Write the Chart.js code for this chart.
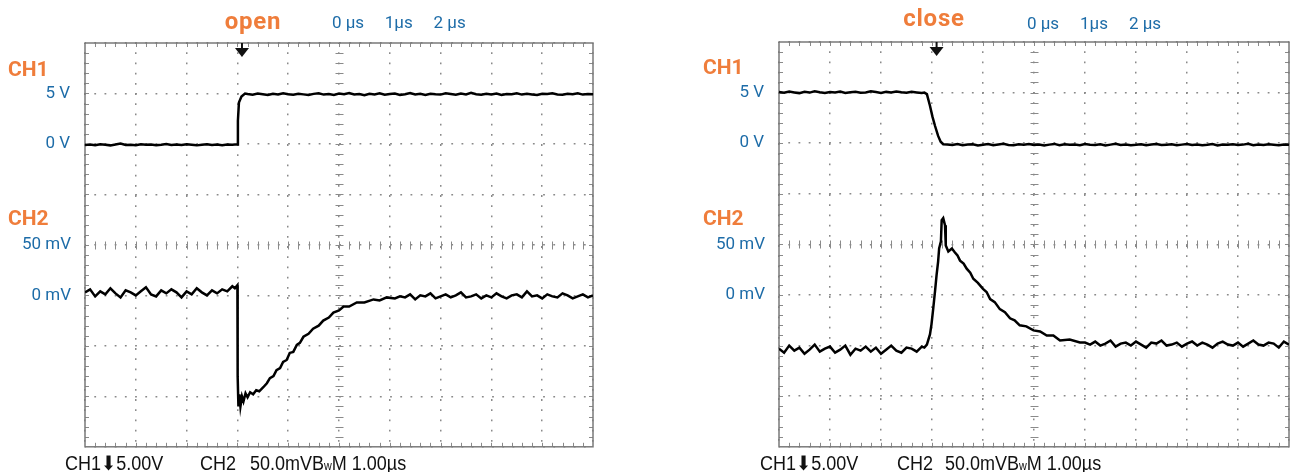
<!DOCTYPE html>
<html lang="en">
<head>
<meta charset="UTF-8">
<title>open / close</title>
<script src="https://cdn.jsdelivr.net/npm/chart.js"></script>
<style>
  body { margin: 0; background: #fff; width: 1292px; height: 472px; position: relative; overflow: hidden; font-family: Roboto, sans-serif; }
  canvas { position: absolute; top: 0; }
  .lbl { position: absolute; line-height: 1; white-space: pre; }
  .ch { color: #ef7d3b; font-weight: 700; font-size: 21px; }
  .evt { color: #ef7d3b; font-weight: 700; font-size: 24px; letter-spacing: 0.8px; transform: translateX(-50%); }
  .foot { font-family: "Liberation Sans", Arial, sans-serif; font-size: 20px; color: #111; transform: scaleX(0.9); transform-origin: left top; }
  .foot small { font-size: 12px; }
</style>
</head>
<body>
<canvas id="openChart" width="646" height="472" style="left:0"></canvas>
<canvas id="closeChart" width="646" height="472" style="left:646px"></canvas>

<div class="lbl evt" style="left:253px; top:9px">open</div>
<div class="lbl ch" style="left:8px; top:59px">CH1</div>
<div class="lbl ch" style="left:8px; top:208px">CH2</div>
<div class="lbl foot" style="left:65px; top:453px">CH1⬇5.00V</div>
<div class="lbl foot" style="left:200px; top:453px">CH2</div>
<div class="lbl foot" style="left:250px; top:453px">50.0mVB<small>w</small>M 1.00µs</div>

<div class="lbl evt" style="left:934px; top:6px">close</div>
<div class="lbl ch" style="left:703px; top:57px">CH1</div>
<div class="lbl ch" style="left:703px; top:208px">CH2</div>
<div class="lbl foot" style="left:760px; top:453px">CH1⬇5.00V</div>
<div class="lbl foot" style="left:897px; top:453px">CH2</div>
<div class="lbl foot" style="left:945px; top:453px">50.0mVB<small>w</small>M 1.00µs</div>

<script>
// tick labels (x in µs from left edge of screen, 1 µs/div)
const topTickPos = [5, 6, 7];
const topTickLabels = ['0 µs', '1µs', '2 µs'];
const ch1TickVals = [5, 0];
const ch1TickLabels = ['5 V', '0 V'];
const ch2TickVals = [50, 0];
const ch2TickLabels = ['50 mV', '0 mV'];
const triggerAt = 3.09;

// "open" - CH1 (V)
const openT1 = [0,0.1,0.2,0.3,0.4,0.5,0.6,0.7,0.8,0.9,
  1,1.1,1.2,1.3,1.4,1.5,1.6,1.7,1.8,1.9,
  2,2.1,2.2,2.3,2.4,2.5,2.6,2.7,2.8,2.9,
  2.95,3,3.01,3.03,3.08,3.15,
  3.2,3.3,3.4,3.5,3.6,3.7,3.8,3.9,
  4,4.1,4.2,4.3,4.4,4.5,4.6,4.7,4.8,4.9,
  5,5.1,5.2,5.3,5.4,5.5,5.6,5.7,5.8,5.9,
  6,6.1,6.2,6.3,6.4,6.5,6.6,6.7,6.8,6.9,
  7,7.1,7.2,7.3,7.4,7.5,7.6,7.7,7.8,7.9,
  8,8.1,8.2,8.3,8.4,8.5,8.6,8.7,8.8,8.9,
  9,9.1,9.2,9.3,9.4,9.5,9.6,9.7,9.8,9.9,
  10];
const openV1 = [-0.10,-0.05,-0.12,-0.02,-0.08,-0.14,-0.06,0.04,-0.10,-0.07,
  -0.12,-0.03,-0.09,-0.05,-0.13,-0.08,-0.01,-0.10,-0.06,-0.11,
  -0.04,-0.09,-0.14,-0.07,-0.02,-0.10,-0.06,-0.12,-0.05,-0.08,
  -0.06,-0.05,2.3,4.1,4.7,5.0,
  4.95,4.88,5.00,4.92,4.85,4.97,4.90,5.03,
  4.93,4.87,4.98,4.91,4.84,4.96,5.02,4.89,4.94,4.86,
  4.99,4.92,5.05,4.90,4.95,4.83,4.97,4.91,5.01,4.88,
  4.94,4.99,4.86,4.93,5.04,4.90,4.96,4.85,4.98,4.92,
  4.89,5.02,4.94,4.87,4.99,4.91,5.06,4.93,4.88,4.97,
  4.90,5.00,4.86,4.95,4.92,5.03,4.89,4.96,4.91,4.85,
  4.98,4.94,5.01,4.90,4.87,4.97,4.93,5.02,4.89,4.95,
  4.92];

// "open" - CH2 (mV)
const openT2 = [0,0.1,0.2,0.3,0.4,0.5,0.6,0.7,0.8,0.9,
  1,1.1,1.2,1.3,1.4,1.5,1.6,1.7,1.8,1.9,
  2,2.1,2.2,2.3,2.4,2.5,2.6,2.7,2.8,2.9,
  2.95,3,3.005,3.02,3.04,3.06,3.09,3.12,3.16,3.2,
  3.25,3.31,3.37,3.43,3.51,3.58,3.64,3.71,3.77,3.84,
  3.9,3.97,4.03,4.1,4.17,4.23,4.3,4.4,4.49,4.6,
  4.69,4.8,4.89,5,5.09,5.2,5.35,5.5,5.68,5.8,
  5.94,6.1,6.2,
  6.3,6.4,6.5,6.6,6.7,6.8,6.9,
  7,7.1,7.2,7.3,7.4,7.5,7.6,7.7,7.8,7.9,
  8,8.1,8.2,8.3,8.4,8.5,8.6,8.7,8.8,8.9,
  9,9.1,9.2,9.3,9.4,9.5,9.6,9.7,9.8,9.9,
  10];
const openV2 = [3,6,-1,4,1,7,2,-2,5,3,
  0,4,8,1,-1,5,2,6,3,-2,
  4,1,7,3,0,5,2,6,4,9,
  7,10,-80,-110,-98,-110,-100,-105,-97,-101,
  -96,-98,-94,-95,-91,-87,-82,-80,-74,-72,
  -66,-64,-57,-56,-49,-47,-41,-38,-33,-30,
  -25,-22,-17,-15,-11,-11,-7,-7,-4,-5,
  -2,-3,-1,
  -2,1,-4,0,-1,2,-3,
  -1,1,-2,0,3,-2,-1,1,-3,0,
  -2,2,-1,-3,0,1,-2,4,-1,0,
  -3,1,-1,-2,2,0,-3,-1,1,-2,
  0];

// "close" - CH1 (V)
const closeT1 = [0,0.1,0.2,0.3,0.4,0.5,0.6,0.7,0.8,0.9,
  1,1.1,1.2,1.3,1.4,1.5,1.6,1.7,1.8,1.9,
  2,2.1,2.2,2.3,2.4,2.5,2.6,2.7,2.8,
  2.85,2.9,2.96,3.01,3.06,3.12,3.17,3.22,
  3.3,3.4,3.5,3.6,3.7,3.8,3.9,
  4,4.1,4.2,4.3,4.4,4.5,4.6,4.7,4.8,4.9,
  5,5.1,5.2,5.3,5.4,5.5,5.6,5.7,5.8,5.9,
  6,6.1,6.2,6.3,6.4,6.5,6.6,6.7,6.8,6.9,
  7,7.1,7.2,7.3,7.4,7.5,7.6,7.7,7.8,7.9,
  8,8.1,8.2,8.3,8.4,8.5,8.6,8.7,8.8,8.9,
  9,9.1,9.2,9.3,9.4,9.5,9.6,9.7,9.8,9.9,
  10];
const closeV1 = [5.05,4.98,5.10,5.02,4.95,5.08,5.00,5.12,5.03,4.97,
  5.06,5.01,5.11,4.96,5.04,5.09,4.99,5.02,5.13,5.05,
  4.97,5.07,5.00,5.10,5.03,4.98,5.08,5.02,4.96,
  5.0,4.85,3.7,2.6,1.7,0.72,0.15,-0.1,
  -0.12,-0.18,-0.08,-0.20,-0.14,-0.10,-0.22,
  -0.15,-0.09,-0.19,-0.13,-0.06,-0.17,-0.21,-0.11,-0.16,-0.08,
  -0.18,-0.12,-0.23,-0.14,-0.07,-0.19,-0.10,-0.16,-0.13,-0.20,
  -0.09,-0.15,-0.18,-0.11,-0.22,-0.14,-0.05,-0.17,-0.12,-0.19,
  -0.16,-0.10,-0.21,-0.13,-0.08,-0.18,-0.15,-0.11,-0.20,-0.14,
  -0.07,-0.17,-0.12,-0.19,-0.15,-0.09,-0.22,-0.13,-0.16,-0.10,
  -0.18,-0.14,-0.06,-0.20,-0.12,-0.17,-0.11,-0.15,-0.19,-0.13,
  -0.16];

// "close" - CH2 (mV)
const closeT2 = [0,0.1,0.2,0.3,0.4,0.5,0.6,0.7,0.8,0.9,
  1,1.1,1.2,1.3,1.4,1.5,1.6,1.7,1.8,1.9,
  2,2.1,2.2,2.3,2.4,2.5,2.6,2.7,2.8,
  2.85,2.9,2.96,2.99,3.025,3.06,3.09,3.12,3.14,3.175,
  3.19,3.22,3.255,3.27,3.32,3.39,3.45,3.5,3.55,3.62,
  3.68,3.75,3.81,3.9,4,4.07,4.14,4.23,4.33,4.43,
  4.53,4.62,4.72,4.85,4.99,5.12,5.25,5.38,5.51,5.7,
  5.9,
  6,6.1,6.2,6.3,6.4,6.5,6.6,6.7,6.8,6.9,
  7,7.1,7.2,7.3,7.4,7.5,7.6,7.7,7.8,7.9,
  8,8.1,8.2,8.3,8.4,8.5,8.6,8.7,8.8,8.9,
  9,9.1,9.2,9.3,9.4,9.5,9.6,9.7,9.8,9.9,
  10];
const closeV2 = [-53,-57,-50,-55,-52,-58,-54,-49,-56,-53,
  -51,-57,-54,-50,-59,-53,-55,-51,-56,-52,
  -58,-54,-50,-55,-57,-52,-53,-56,-51,
  -52,-49,-39,-29,-13,4,20,33,46,53,
  74,76,69,49,43,46,42,39,34,31,
  26,22,16,12,6,3,-4,-7,-14,-17,
  -23,-25,-30,-31,-35,-36,-40,-40,-45,-44,
  -47,
  -47,-49,-46,-50,-48,-45,-51,-48,-47,-50,
  -46,-49,-52,-47,-48,-45,-50,-49,-47,-51,
  -48,-46,-50,-47,-49,-52,-48,-46,-49,-50,
  -47,-51,-48,-45,-49,-50,-47,-48,-52,-46,
  -49];

const blue = '#1d6ca8';
const gridGrey = '#8a8a8a';
const labelFont = { family: 'Roboto', size: 17 };

function pts(t, v) {
  return t.map((tt, i) => ({ x: tt, y: v[i] }));
}

// frame, minor ticks, centre-axis ticks and trigger marker
function graticule(trig) {
  return {
    id: 'graticule',
    afterLayout(chart) {
      // let the zero-width CH2 axis draw its labels to the left of the plot
      chart.scales.y2.left = 0;
    },
    beforeDatasetsDraw(chart) {
      const { ctx, chartArea: a, scales: { x, y } } = chart;
      const cx = Math.round(x.getPixelForValue(5)) + 0.5;
      const cy = Math.round(y.getPixelForValue(-10)) + 0.5;
      ctx.save();
      ctx.strokeStyle = gridGrey;
      ctx.lineWidth = 1;
      ctx.beginPath();
      for (let i = 1; i < 50; i++) {
        const px = Math.round(x.getPixelForValue(i / 5)) + 0.5;
        ctx.moveTo(px, a.top); ctx.lineTo(px, a.top + 4);
        ctx.moveTo(px, a.bottom); ctx.lineTo(px, a.bottom - 4);
        ctx.moveTo(px, cy - 4); ctx.lineTo(px, cy + 4);
      }
      for (let j = -29; j < 10; j++) {
        const py = Math.round(y.getPixelForValue(j)) + 0.5;
        ctx.moveTo(a.left, py); ctx.lineTo(a.left + 4, py);
        ctx.moveTo(a.right, py); ctx.lineTo(a.right - 4, py);
        ctx.moveTo(cx - 4, py); ctx.lineTo(cx + 4, py);
      }
      ctx.stroke();
      ctx.strokeStyle = '#7a7a7a';
      ctx.lineWidth = 1.5;
      ctx.strokeRect(a.left, a.top, a.width, a.height);

      const tx = x.getPixelForValue(trig);
      ctx.strokeStyle = '#111';
      ctx.fillStyle = '#111';
      ctx.lineWidth = 2;
      ctx.beginPath(); ctx.moveTo(tx, a.top); ctx.lineTo(tx, a.top + 8); ctx.stroke();
      ctx.beginPath();
      ctx.moveTo(tx - 7, a.top + 5); ctx.lineTo(tx + 7, a.top + 5); ctx.lineTo(tx, a.top + 14);
      ctx.closePath(); ctx.fill();
      ctx.restore();
    }
  };
}

function makeChart(id, t1, v1, t2, v2, leftW, topH, padRight, topPad) {
  const trace = { borderColor: '#000', borderWidth: 2.5, pointRadius: 0, tension: 0 };
  return new Chart(document.getElementById(id), {
    type: 'line',
    data: {
      datasets: [
        Object.assign({ label: 'CH1', data: pts(t1, v1), yAxisID: 'y' }, trace),
        Object.assign({ label: 'CH2', data: pts(t2, v2), yAxisID: 'y2' }, trace)
      ]
    },
    options: {
      responsive: false,
      animation: false,
      layout: { padding: { left: 0, top: 0, right: padRight, bottom: 22 } },
      plugins: { legend: { display: false }, tooltip: { enabled: false } },
      scales: {
        x: {
          type: 'linear', position: 'bottom', min: 0, max: 10,
          ticks: { stepSize: 1, display: false },
          grid: { color: gridGrey, lineWidth: 1.5, drawTicks: false },
          border: { display: false, dash: [1.8, 8.4], dashOffset: 0.9 },
          afterFit: s => { s.height = 0; }
        },
        xTop: {
          type: 'linear', position: 'top', min: 0, max: 10,
          afterBuildTicks: s => { s.ticks = topTickPos.map(v => ({ value: v })); },
          ticks: {
            color: blue, font: labelFont, padding: topPad, labelOffset: 9,
            maxRotation: 0, autoSkip: false,
            callback: (v, i) => topTickLabels[i]
          },
          grid: { display: false, drawTicks: false },
          border: { display: false },
          afterFit: s => { s.height = topH; }
        },
        y: {
          position: 'left', weight: 1, min: -30, max: 10,
          ticks: {
            stepSize: 5, padding: 15, color: blue, font: labelFont,
            callback: v => { const k = ch1TickVals.indexOf(v); return k < 0 ? '' : ch1TickLabels[k]; }
          },
          grid: { color: gridGrey, lineWidth: 1.5, drawTicks: false },
          border: { display: false, dash: [1.8, 8.4], dashOffset: 0.9 },
          afterFit: s => { s.width = leftW; }
        },
        y2: {
          position: 'left', weight: 0, min: -150, max: 250,
          ticks: {
            stepSize: 50, padding: 14, color: blue, font: labelFont,
            callback: v => { const k = ch2TickVals.indexOf(v); return k < 0 ? '' : ch2TickLabels[k]; }
          },
          grid: { display: false, drawTicks: false },
          border: { display: false },
          afterFit: s => { s.width = 0; }
        }
      }
    },
    plugins: [graticule(triggerAt)]
  });
}

makeChart('openChart', openT1, openV1, openT2, openV2, 85, 43, 53, 9.5);
makeChart('closeChart', closeT1, closeV1, closeT2, closeV2, 133, 42, 3, 7.5);
</script>
</body>
</html>
